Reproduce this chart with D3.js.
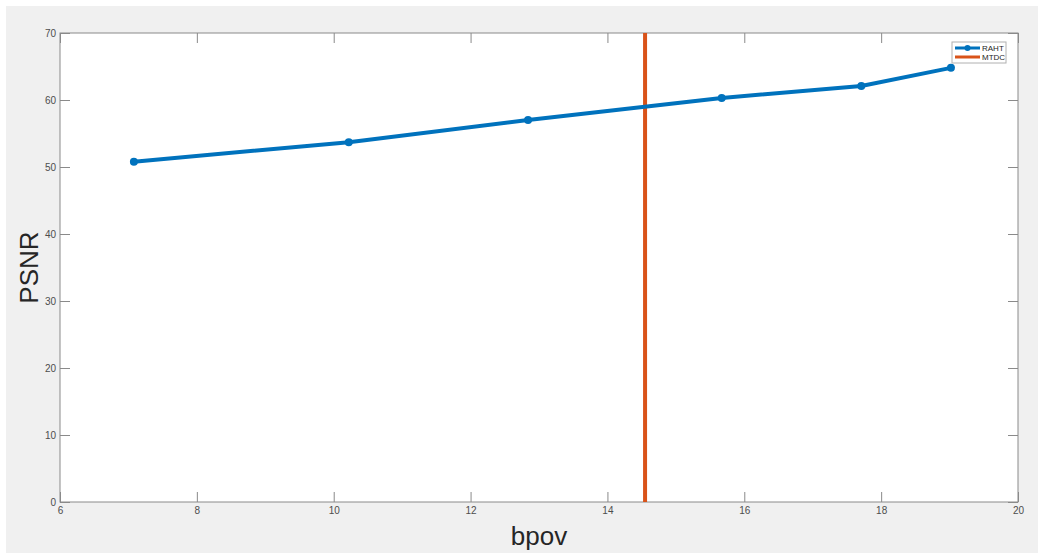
<!DOCTYPE html>
<html>
<head>
<meta charset="utf-8">
<script src="https://cdn.jsdelivr.net/npm/d3@7"></script>
<style>
  body { margin: 0; background: #fff; }
  svg { display: block; font-family: "Liberation Sans", Arial, sans-serif; }
</style>
</head>
<body>
<div id="chart"></div>
<script>
const WIDTH = 1038, HEIGHT = 553;
const margin = {top: 33, right: 20, bottom: 51, left: 60};

// data
const bpov = [7.08, 10.22, 12.84, 15.67, 17.71, 19.02];
const psnr = [50.8, 53.7, 57.0, 60.3, 62.1, 64.8];
const mtdcBpov = 14.55;
const xTicks = [6, 8, 10, 12, 14, 16, 18, 20];
const yTicks = [0, 10, 20, 30, 40, 50, 60, 70];
const seriesNames = ["RAHT", "MTDC"];
const seriesColors = ["#0072BD", "#D95319"];

let plot_w = WIDTH - margin.left - margin.right;
let plot_h = HEIGHT - margin.top - margin.bottom;

let svg = d3.select("#chart")
    .append("svg")
    .attr("width", WIDTH)
    .attr("height", HEIGHT);

// figure background
svg.append("rect")
    .attr("x", 6).attr("y", 6)
    .attr("width", WIDTH - 6).attr("height", HEIGHT - 6)
    .attr("fill", "#f0f0f0");

let g = svg.append("g")
    .attr("transform", `translate(${margin.left}, ${margin.top})`);

let x = d3.scaleLinear().domain([6, 20]).range([0, plot_w]);
let y = d3.scaleLinear().domain([0, 70]).range([plot_h, 0]);

g.append("rect")
    .attr("width", plot_w)
    .attr("height", plot_h)
    .attr("fill", "#fff");

// axes, ticks pointing inward like matlab
let axisColor = "#8a8a8a", textColor = "#4d4d4d";

function styleAxis(sel, showText) {
    sel.select(".domain").remove();
    sel.selectAll(".tick line").attr("stroke", axisColor);
    sel.selectAll(".tick text")
        .attr("fill", textColor)
        .style("font-size", "10px")
        .style("display", showText ? null : "none");
}

g.append("g")
    .attr("transform", `translate(0, ${plot_h})`)
    .call(d3.axisBottom(x).tickValues(xTicks).tickSize(-10).tickPadding(5).tickFormat(d3.format("d")))
    .call(s => styleAxis(s, true));

g.append("g")
    .call(d3.axisTop(x).tickValues(xTicks).tickSize(-10).tickFormat(""))
    .call(s => styleAxis(s, false));

g.append("g")
    .call(d3.axisLeft(y).tickValues(yTicks).tickSize(-10).tickPadding(4).tickFormat(d3.format("d")))
    .call(s => styleAxis(s, true));

g.append("g")
    .attr("transform", `translate(${plot_w}, 0)`)
    .call(d3.axisRight(y).tickValues(yTicks).tickSize(-10).tickFormat(""))
    .call(s => styleAxis(s, false));

// box
g.append("rect")
    .attr("width", plot_w)
    .attr("height", plot_h)
    .attr("fill", "none")
    .attr("stroke", axisColor)
    .attr("stroke-width", 1);

// MTDC vertical line
g.append("line")
    .attr("x1", x(mtdcBpov)).attr("x2", x(mtdcBpov))
    .attr("y1", y(70)).attr("y2", y(0))
    .attr("stroke", seriesColors[1])
    .attr("stroke-width", 4);

// RAHT line
let pts = bpov.map((d, i) => [d, psnr[i]]);
let line = d3.line().x(d => x(d[0])).y(d => y(d[1]));

g.append("path")
    .datum(pts)
    .attr("d", line)
    .attr("fill", "none")
    .attr("stroke", seriesColors[0])
    .attr("stroke-width", 4)
    .attr("stroke-linejoin", "round");

g.selectAll(".marker")
    .data(pts)
    .enter()
    .append("circle")
    .attr("class", "marker")
    .attr("cx", d => x(d[0]))
    .attr("cy", d => y(d[1]))
    .attr("r", 4)
    .attr("fill", seriesColors[0]);

// axis labels
svg.append("text")
    .attr("x", margin.left + plot_w / 2)
    .attr("y", 545)
    .style("text-anchor", "middle")
    .style("font-size", "26px")
    .attr("fill", "#262626")
    .text("bpov");

svg.append("text")
    .attr("transform", `translate(38, ${margin.top + plot_h / 2}) rotate(-90)`)
    .style("text-anchor", "middle")
    .style("font-size", "26px")
    .attr("fill", "#262626")
    .text("PSNR");

// legend
let legend = svg.append("g").attr("transform", "translate(952, 42)");
legend.append("rect")
    .attr("width", 54).attr("height", 21)
    .attr("fill", "#fff")
    .attr("stroke", "#b0b0b0")
    .attr("stroke-width", 1);

seriesNames.forEach(function(name, i) {
    let ly = 6 + i * 9;
    legend.append("line")
        .attr("x1", 3).attr("x2", 28)
        .attr("y1", ly).attr("y2", ly)
        .attr("stroke", seriesColors[i])
        .attr("stroke-width", 3);
    if (i == 0) {
        legend.append("circle")
            .attr("cx", 15.5).attr("cy", ly).attr("r", 3)
            .attr("fill", seriesColors[i]);
    }
    legend.append("text")
        .attr("x", 30).attr("y", ly + 3)
        .style("font-size", "8px")
        .attr("fill", "#262626")
        .text(name);
});
</script>
</body>
</html>
